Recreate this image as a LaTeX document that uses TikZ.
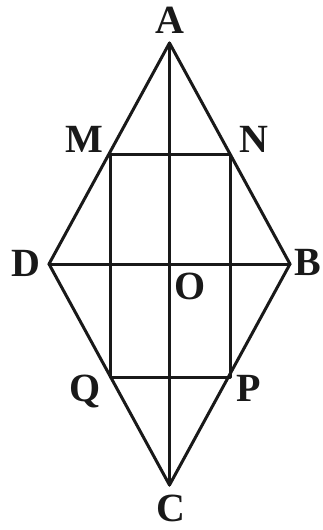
\documentclass[tikz,border=0pt]{standalone}
\usepackage{fontspec}
\setmainfont{Liberation Serif}
\begin{document}
\begin{tikzpicture}[x=1pt,y=-1pt,
  seg/.style={line width=3pt,line join=round,line cap=round,black!90},
  lbl/.style={font=\fontsize{40}{40}\selectfont\bfseries,inner sep=0pt,text=black!90}]
\useasboundingbox (0,0) rectangle (323,530);
\coordinate (A) at (169.5,43);
\coordinate (B) at (290,264);
\coordinate (C) at (169.5,485);
\coordinate (D) at (49,264);
\coordinate (M) at (110,154);
\coordinate (N) at (230,154);
\coordinate (P) at (230,377);
\coordinate (Q) at (110,377);
\coordinate (O) at (169.5,264);
\draw[seg] (A) -- (B) -- (C) -- (D) -- cycle;
\draw[seg] (A) -- (C);
\draw[seg] (D) -- (B);
\draw[seg] (M) -- (N) -- (P) -- (Q) -- cycle;
\node[lbl,anchor=base] (lA) at (169.5,33) {A};
\node[lbl,anchor=base] (lM) at (84,152) {M};
\node[lbl,anchor=base] (lN) at (254,152) {N};
\node[lbl,anchor=base] (lD) at (26,276) {D};
\node[lbl,anchor=base] (lB) at (308,275) {B};
\node[lbl,anchor=base] (lO) at (190,299) {O};
\node[lbl,anchor=base] (lQ) at (85,401) {Q};
\node[lbl,anchor=base] (lP) at (249,401) {P};
\node[lbl,anchor=base] (lC) at (171,521) {C};
\end{tikzpicture}
\end{document}
